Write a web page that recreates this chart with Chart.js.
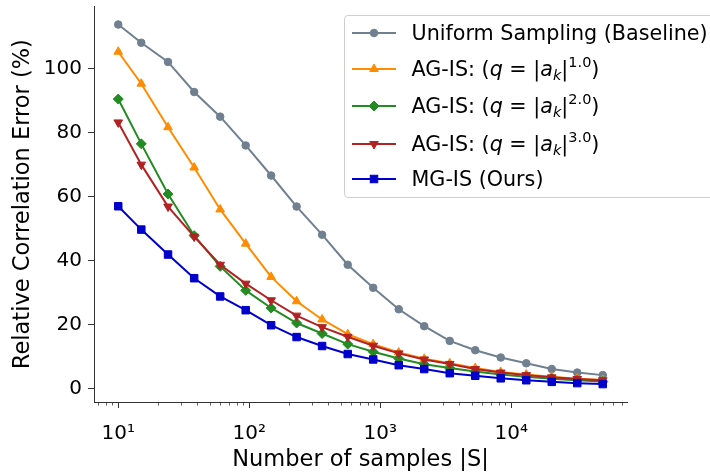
<!DOCTYPE html>
<html>
<head>
<meta charset="utf-8">
<script src="https://cdn.jsdelivr.net/npm/chart.js@4.4.1/dist/chart.umd.min.js"></script>
<style>
  html, body { margin: 0; padding: 0; background: #fff; overflow: hidden; }
  #wrap { position: relative; width: 710px; height: 474px; overflow: hidden; }
  #legend {
    position: absolute; left: 344px; top: 15px; width: 390px; height: 183px;
    border: 1px solid #cfcfcf; border-radius: 4px; background: rgba(255,255,255,0.8);
    font-family: "DejaVu Sans"; font-size: 20.7px; color: #000; box-sizing: border-box;
  }
  .row { position: absolute; left: 0; width: 100%; height: 30px; }
  .row svg { position: absolute; left: 7px; top: 5px; }
  .row .t { position: absolute; left: 66.5px; top: 0; height: 30px; line-height: 30px; white-space: nowrap; }
  .row .t sub { font-size: 70%; vertical-align: -0.3em; line-height: 0; }
  .row .t sup { font-size: 70%; vertical-align: 0.62em; line-height: 0; }
</style>
</head>
<body>
<div id="wrap">
  <canvas id="c" width="710" height="474"></canvas>
  <div id="legend"></div>
</div>
<script>
// ---- data ----
const sampleCounts = [10, 15, 24, 38, 60, 94, 147, 230, 360, 565, 884, 1385, 2168, 3394, 5315, 8321, 13027, 20396, 31931, 50000];
const uniformErr = [113.8, 108.1, 102.1, 92.7, 85.0, 76.0, 66.6, 56.9, 48.1, 38.7, 31.5, 24.8, 19.5, 14.9, 12.0, 9.7, 7.9, 6.1, 5.0, 4.2];
const agis1Err   = [105.3, 95.3, 81.7, 69.1, 56.0, 45.3, 34.9, 27.3, 21.6, 17.0, 13.9, 11.3, 9.3, 7.9, 6.4, 5.2, 4.4, 3.7, 3.1, 2.7];
const agis2Err   = [90.5, 76.5, 60.8, 47.8, 38.2, 30.7, 25.2, 20.5, 17.2, 13.9, 11.5, 9.4, 7.6, 6.4, 5.3, 4.4, 3.7, 3.1, 2.6, 2.2];
const agis3Err   = [83.2, 70.0, 56.9, 47.5, 38.7, 32.8, 27.6, 22.8, 19.2, 16.2, 13.4, 11.0, 9.1, 7.7, 6.1, 5.0, 4.2, 3.5, 3.0, 2.6];
const mgisErr    = [57.0, 49.7, 41.9, 34.5, 28.8, 24.5, 19.8, 16.1, 13.3, 10.8, 9.1, 7.3, 6.1, 4.8, 4.0, 3.2, 2.6, 2.1, 1.7, 1.4];

const seriesNames = [
  'Uniform Sampling (Baseline)',
  'AG-IS: (q = |a_k|^1.0)',
  'AG-IS: (q = |a_k|^2.0)',
  'AG-IS: (q = |a_k|^3.0)',
  'MG-IS (Ours)'
];
const legendMarkup = [
  'Uniform Sampling (Baseline)',
  'AG-IS: (<i>q</i> = |<i>a</i><sub><i>k</i></sub>|<sup>1.0</sup>)',
  'AG-IS: (<i>q</i> = |<i>a</i><sub><i>k</i></sub>|<sup>2.0</sup>)',
  'AG-IS: (<i>q</i> = |<i>a</i><sub><i>k</i></sub>|<sup>3.0</sup>)',
  'MG-IS (Ours)'
];
const xTickValues = [10, 100, 1000, 10000];
const xTickLabels = ['10\u00B9', '10\u00B2', '10\u00B3', '10\u2074'];
const yTickValues = [0, 20, 40, 60, 80, 100];

// ---- styling ----
const FONT = "'DejaVu Sans'";
const AXIS = '#333333';
const colors = ['#708090', '#FF8C00', '#228B22', '#B22222', '#0000CD'];
const styles = [
  { pointStyle: 'circle', radius: 3.8, rotation: 0 },
  { pointStyle: 'triangle', radius: 5, rotation: 0 },
  { pointStyle: 'rectRot', radius: 5, rotation: 0 },
  { pointStyle: 'triangle', radius: 5, rotation: 180 },
  { pointStyle: 'rect', radius: 5.3, rotation: 0 }
];
const seriesValues = [uniformErr, agis1Err, agis2Err, agis3Err, mgisErr];
const legendRowCenters = [16.7, 52.6, 90.3, 127.8, 162.6];

const datasets = seriesValues.map((vals, i) => ({
  label: seriesNames[i],
  data: sampleCounts.map((x, j) => ({ x: x, y: vals[j] })),
  borderColor: colors[i],
  backgroundColor: colors[i],
  pointBackgroundColor: colors[i],
  pointBorderColor: colors[i],
  pointBorderWidth: 1,
  pointStyle: styles[i].pointStyle,
  pointRadius: styles[i].radius,
  pointRotation: styles[i].rotation,
  borderWidth: 2,
  tension: 0,
  fill: false,
  order: seriesValues.length - i
}));

const minorTicks = {
  id: 'minorTicks',
  afterDraw(chart) {
    const xs = chart.scales.x, ctx = chart.ctx, y0 = chart.chartArea.bottom;
    ctx.save();
    ctx.strokeStyle = AXIS;
    ctx.lineWidth = 0.8;
    for (let e = 0; e <= 4; e++) {
      for (let m = 2; m <= 9; m++) {
        const v = m * Math.pow(10, e);
        if (v < xs.min || v > xs.max) continue;
        const px = Math.round(xs.getPixelForValue(v)) + 0.5;
        ctx.beginPath();
        ctx.moveTo(px, y0);
        ctx.lineTo(px, y0 + 3.5);
        ctx.stroke();
      }
    }
    ctx.restore();
  }
};

const chart = new Chart(document.getElementById('c'), {
  type: 'line',
  data: { datasets: datasets },
  plugins: [minorTicks],
  options: {
    responsive: false,
    animation: false,
    layout: { padding: { top: 5, right: 83, bottom: 0, left: 0 } },
    plugins: { legend: { display: false }, tooltip: { enabled: false } },
    scales: {
      x: {
        type: 'logarithmic',
        min: Math.pow(10, 0.815),
        max: Math.pow(10, 4.884),
        afterBuildTicks: (s) => { s.ticks = xTickValues.map(v => ({ value: v, major: true })); },
        afterFit: (s) => { s.height = 72; s.paddingLeft = 0; s.paddingRight = 0; },
        ticks: {
          callback: (v, idx) => xTickLabels[idx],
          font: { family: FONT, size: 20 },
          color: '#000',
          padding: 14,
          maxRotation: 0,
          autoSkip: false
        },
        grid: { display: true, drawOnChartArea: false, drawTicks: true, tickLength: 6, tickColor: AXIS, tickWidth: 1 },
        border: { display: true, color: AXIS, width: 1 },
        title: {
          display: true, text: 'Number of samples |S|',
          font: { family: FONT, size: 22.5 }, color: '#000',
          padding: { top: 0, bottom: 0 }
        }
      },
      y: {
        type: 'linear',
        min: -4.2,
        max: 119.5,
        afterBuildTicks: (s) => { s.ticks = yTickValues.map(v => ({ value: v })); },
        afterFit: (s) => { s.width = 94; s.paddingTop = 0; s.paddingBottom = 0; },
        ticks: {
          font: { family: FONT, size: 20 },
          color: '#000',
          padding: 6
        },
        grid: { display: true, drawOnChartArea: false, drawTicks: true, tickLength: 6, tickColor: AXIS, tickWidth: 1 },
        border: { display: true, color: AXIS, width: 1 },
        title: {
          display: true, text: 'Relative Correlation Error (%)',
          font: { family: FONT, size: 22.5 }, color: '#000',
          padding: { top: 10, bottom: 0 }
        }
      }
    }
  }
});

function markerSvg(style, color) {
  const cx = 22, cy = 10;
  if (style.pointStyle === 'circle') {
    return `<circle cx="${cx}" cy="${cy}" r="${style.radius}" fill="${color}" stroke="${color}" stroke-width="1"/>`;
  }
  if (style.pointStyle === 'triangle') {
    const r = style.radius, w = r * Math.sqrt(3) / 2;
    const pts = style.rotation === 180
      ? `${cx},${cy + r} ${cx - w},${cy - r / 2} ${cx + w},${cy - r / 2}`
      : `${cx},${cy - r} ${cx - w},${cy + r / 2} ${cx + w},${cy + r / 2}`;
    return `<polygon points="${pts}" fill="${color}" stroke="${color}" stroke-width="1"/>`;
  }
  if (style.pointStyle === 'rectRot') {
    const r = style.radius;
    return `<polygon points="${cx},${cy - r} ${cx + r},${cy} ${cx},${cy + r} ${cx - r},${cy}" fill="${color}" stroke="${color}" stroke-width="1"/>`;
  }
  const h = style.radius * Math.SQRT1_2;
  return `<rect x="${cx - h}" y="${cy - h}" width="${2 * h}" height="${2 * h}" fill="${color}" stroke="${color}" stroke-width="1"/>`;
}

function buildLegend(ch) {
  const box = document.getElementById('legend');
  box.innerHTML = '';
  ch.data.datasets.forEach((ds, i) => {
    const row = document.createElement('div');
    row.className = 'row';
    row.style.top = (legendRowCenters[i] - 15) + 'px';
    row.innerHTML =
      `<svg width="44" height="20" viewBox="0 0 44 20"><line x1="0" y1="10" x2="44" y2="10" stroke="${ds.borderColor}" stroke-width="2"/>` +
      markerSvg(styles[i], ds.borderColor) + `</svg>` +
      `<span class="t">${legendMarkup[i]}</span>`;
    box.appendChild(row);
  });
}
buildLegend(chart);
</script>
</body>
</html>
